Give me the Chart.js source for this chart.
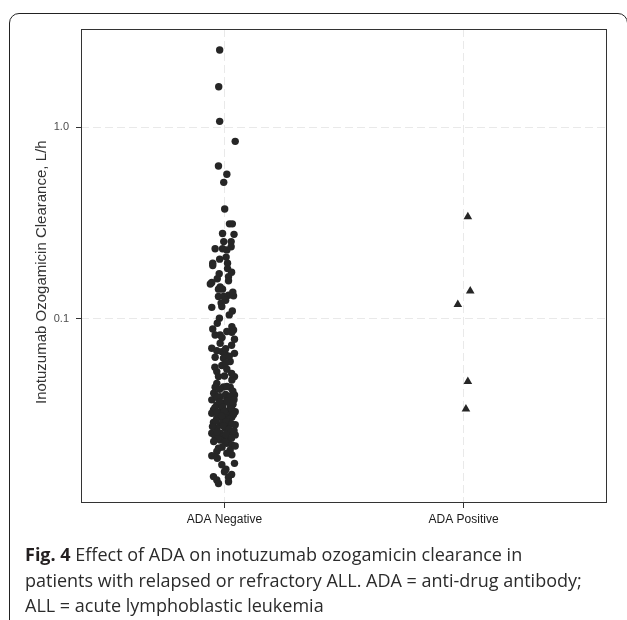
<!DOCTYPE html>
<html>
<head>
<meta charset="utf-8">
<script src="https://cdn.jsdelivr.net/npm/chart.js@4.4.1/dist/chart.umd.min.js"></script>
<style>
  html, body { margin: 0; padding: 0; background: #fff; }
  #wrap { position: relative; width: 627px; height: 620px; overflow: hidden; }
  #frame {
    position: absolute; left: 9px; top: 13px; width: 619px; height: 640px;
    border: 1.5px solid #222; border-radius: 10px; box-sizing: border-box;
  }
  #chart { position: absolute; left: 0; top: 0; }
  #caption {
    position: absolute; left: 25px; top: 542px; width: 600px;
    font-family: "Open Sans", "Noto Sans", sans-serif; font-size: 18px;
    line-height: 25.5px; color: #2b2b2b; white-space: nowrap;
  }
  #caption b { color: #231f20; }
</style>
</head>
<body>
<div id="wrap">
  <div id="frame"></div>
  <canvas id="chart" width="627" height="620"></canvas>
  <div id="caption">
    <div><b>Fig. 4</b> Effect of ADA on inotuzumab ozogamicin clearance in</div>
    <div>patients with relapsed or refractory ALL. ADA = anti-drug antibody;</div>
    <div>ALL = acute lymphoblastic leukemia</div>
  </div>
</div>
<script>
const groups = ['ADA Negative', 'ADA Positive'];
const yTicks = [0.1, 1];
const yTickLabels = ['0.1', '1.0'];

// clearance (L/h) for ADA negative patients, with horizontal jitter
const negClearance = [
  2.52, 1.62, 1.07, 0.842,
  0.626, 0.567, 0.515, 0.374, 0.313, 0.313, 0.279, 0.276, 0.253, 0.253,
  0.238, 0.232, 0.232, 0.229, 0.210, 0.195, 0.190, 0.195, 0.183, 0.172,
  0.166, 0.158, 0.155, 0.152, 0.147, 0.143, 0.143, 0.131, 0.133, 0.132, 0.131,
  0.121, 0.115, 0.116, 0.110, 0.101, 0.0887, 0.0912, 0.0877, 0.0825, 0.0825,
  0.0853, 0.0784, 0.0747, 0.0704, 0.0684, 0.0676, 0.0657, 0.0662, 0.0632,
  0.0624, 0.0600, 0.0572, 0.0547, 0.0532, 0.0501, 0.0501, 0.0481, 0.0462,
  0.0441, 0.0442, 0.0441,
  0.0402, 0.0402, 0.0394, 0.0386, 0.0379, 0.0376, 0.0364, 0.0357, 0.0352,
  0.0336, 0.0339, 0.0333, 0.0329, 0.0323, 0.0323, 0.0316, 0.0304, 0.0308,
  0.0298, 0.0289, 0.0281, 0.0286, 0.0281, 0.0270, 0.0270, 0.0254, 0.0254,
  0.0259, 0.0244, 0.0244, 0.0249, 0.0234, 0.0234, 0.0225, 0.0221, 0.0212,
  0.0208, 0.0204, 0.0194, 0.0196, 0.0174, 0.0165, 0.0177, 0.0151, 0.0145,
  0.0150, 0.0139, 0.0142,
  0.0445, 0.0430, 0.0420, 0.0410, 0.0405, 0.0395, 0.0390, 0.0380, 0.0372,
  0.0368, 0.0360, 0.0348, 0.0345, 0.0340, 0.0330, 0.0326, 0.0318, 0.0312,
  0.0300, 0.0295, 0.0292, 0.0284, 0.0278, 0.0275, 0.0266, 0.0262, 0.0258,
  0.0250, 0.0240, 0.0238, 0.0230, 0.0228, 0.0218, 0.0215, 0.0200, 0.0188,
  0.0160, 0.0155, 0.0505, 0.0520, 0.0560, 0.0590, 0.0640, 0.0700, 0.0730,
  0.0800, 0.0860, 0.0950, 0.1050, 0.1250, 0.1380, 0.1620, 0.1750, 0.2050
];
const negJitter = [
  -0.020, -0.024, -0.020, 0.045,
  -0.025, 0.010, -0.003, 0.001, 0.021, 0.033, -0.008, 0.040, -0.003, 0.028,
  0.028, -0.039, -0.008, 0.010, 0.007, -0.049, -0.049, 0.013, 0.013, -0.022,
  0.017, 0.017, -0.053, -0.059, -0.018, -0.025, -0.008, -0.025, 0.017, 0.038, -0.004,
  -0.014, -0.053, -0.011, 0.033, -0.021, -0.049, 0.031, 0.038, -0.039, -0.018,
  0.031, 0.042, -0.018, -0.053, -0.032, -0.011, 0.003, 0.042, -0.039,
  -0.004, 0.024, -0.011, 0.010, -0.032, -0.025, 0.042, 0.031, -0.032,
  -0.039, -0.004, 0.024,
  0.042, -0.039, -0.018, 0.010, -0.053, 0.031, -0.004, -0.032, 0.024,
  -0.046, -0.011, 0.017, 0.045, -0.018, -0.053, 0.010, -0.032, 0.031,
  -0.004, -0.046, -0.018, 0.017, 0.045, -0.032, 0.003, -0.053, -0.018,
  0.024, -0.004, -0.039, 0.045, 0.017, -0.018, 0.010, 0.031, -0.025,
  0.024, -0.032, -0.053, 0.031, -0.011, 0.006, 0.042, -0.046, -0.032,
  0.017, -0.025, 0.017,
  0.010, -0.020, 0.035, -0.045, 0.005, 0.025, -0.030, 0.040, 0.012,
  -0.020, 0.036, -0.008, -0.040, 0.030, 0.000, -0.030, 0.038, -0.012,
  0.020, -0.035, 0.008, 0.030, -0.005, -0.050, 0.018, 0.040, -0.030,
  0.006, 0.030, -0.028, -0.045, 0.002, 0.045, -0.010, 0.010, -0.030,
  0.000, 0.030, 0.000, 0.030, -0.040, 0.005, 0.020, 0.005, 0.030,
  -0.010, 0.010, -0.030, 0.020, 0.005, 0.035, -0.030, 0.030, -0.020
];

// ADA positive patients
const posClearance = [0.341, 0.140, 0.119, 0.0472, 0.0340];
const posJitter = [0.018, 0.028, -0.024, 0.018, 0.010];

const negPoints = negClearance.map((v, i) => ({ x: 1 + negJitter[i], y: v }));
const posPoints = posClearance.map((v, i) => ({ x: 2 + posJitter[i], y: v }));

const panelBorder = {
  id: 'panelBorder',
  afterDraw(chart) {
    const { ctx, chartArea: a } = chart;
    ctx.save();
    ctx.strokeStyle = '#333';
    ctx.lineWidth = 1;
    ctx.strokeRect(a.left + 0.5, a.top + 0.5, a.right - a.left - 1, a.bottom - a.top - 1);
    ctx.restore();
  }
};

new Chart(document.getElementById('chart'), {
  type: 'scatter',
  data: {
    datasets: [{
      data: negPoints,
      pointStyle: 'circle',
      pointRadius: 3.7,
      pointBorderWidth: 0,
      backgroundColor: '#262626'
    }, {
      data: posPoints,
      pointStyle: 'triangle',
      pointRadius: 5,
      pointBorderWidth: 0,
      backgroundColor: '#262626'
    }]
  },
  options: {
    responsive: false,
    animation: false,
    devicePixelRatio: 1,
    layout: { padding: { top: 29, right: 20, bottom: 87, left: 0 } },
    plugins: { legend: { display: false }, tooltip: { enabled: false } },
    scales: {
      x: {
        type: 'linear',
        min: 0.4,
        max: 2.6,
        afterBuildTicks: s => { s.ticks = groups.map((g, i) => ({ value: i + 1 })); },
        afterFit: s => { s.height = 30; },
        ticks: {
          callback: v => groups[v - 1],
          color: '#1a1a1a',
          padding: 4,
          maxRotation: 0,
          font: { family: '"Liberation Sans", Arial, sans-serif', size: 12 }
        },
        grid: { color: '#e9e9e9', lineWidth: 1, tickColor: '#333', tickLength: 5, tickBorderDash: [] },
        border: { display: false, dash: [8, 4] }
      },
      y: {
        type: 'logarithmic',
        min: 0.011,
        max: 3.24,
        bounds: 'data',
        afterBuildTicks: s => { s.ticks = yTicks.map(v => ({ value: v })); },
        afterFit: s => { s.width = 81; },
        ticks: {
          callback: v => yTickLabels[yTicks.indexOf(v)],
          color: '#4d4d4d',
          padding: 7,
          font: { family: '"Liberation Sans", Arial, sans-serif', size: 11 }
        },
        grid: { color: '#e9e9e9', lineWidth: 1, tickColor: '#333', tickLength: 5, tickBorderDash: [] },
        border: { display: false, dash: [8, 4] },
        title: {
          display: true,
          text: 'Inotuzumab Ozogamicin Clearance, L/h   ',
          color: '#333',
          padding: { top: 33, bottom: 0 },
          font: { family: '"Liberation Sans", Arial, sans-serif', size: 15 }
        }
      }
    }
  },
  plugins: [panelBorder]
});
</script>
</body>
</html>
